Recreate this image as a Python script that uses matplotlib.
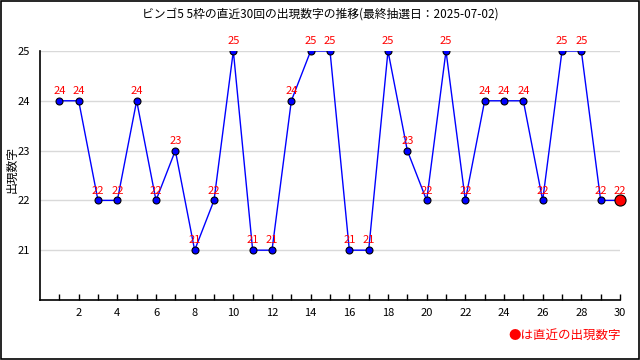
import matplotlib
matplotlib.use("Agg")
import matplotlib.pyplot as plt
from matplotlib.patches import Rectangle

plt.rcParams['font.family'] = ['Noto Sans CJK JP', 'DejaVu Sans']

draws = list(range(1, 31))
values = [24, 24, 22, 22, 24, 22, 23, 21, 22, 25, 21, 21, 24, 25, 25,
          21, 21, 25, 23, 22, 25, 22, 24, 24, 24, 22, 25, 25, 22, 22]
title = "ビンゴ5 5枠の直近30回の出現数字の推移(最終抽選日：2025-07-02)"
ylabel = "出現数字"
note = "●は直近の出現数字"

fig = plt.figure(figsize=(6.4, 3.6), dpi=100)
fig.patches.append(Rectangle((0.0008, 0.0014), 0.9975, 0.996, transform=fig.transFigure,
                             fill=False, edgecolor='black', linewidth=1.2))
ax = fig.add_axes([0.0625, 0.1667, 0.90625, 0.6917])
ax.set_xlim(0, 30)
ax.set_ylim(20, 25)
ax.set_yticks([21, 22, 23, 24, 25])
ax.yaxis.grid(True, color='#d9d9d9', linewidth=1)
ax.set_axisbelow(True)
ax.set_xticks(range(2, 31, 2))
ax.set_xticks(range(1, 31), minor=True)
ax.tick_params(axis='x', which='both', direction='in', length=4, width=1, labelsize=8, pad=6)
ax.tick_params(axis='y', length=0, labelsize=8, pad=7)
for s in ['top', 'right']:
    ax.spines[s].set_visible(False)
ax.spines['left'].set_linewidth(1.2)
ax.spines['bottom'].set_linewidth(1.2)

ax.plot(draws, values, color='blue', linewidth=1, marker='o', markersize=5,
        markerfacecolor='blue', markeredgecolor='black', markeredgewidth=0.8, zorder=3)
ax.plot(draws[-1:], values[-1:], linestyle='none', marker='o', markersize=8,
        markerfacecolor='red', markeredgecolor='black', markeredgewidth=0.8, zorder=4,
        clip_on=False)
for x, v in zip(draws, values):
    ax.annotate(str(v), (x, v), xytext=(0, 3.5), textcoords='offset points',
                ha='center', va='bottom', color='red', fontsize=8, clip_on=False)

fig.text(0.5, 0.962, title, ha='center', va='center', fontsize=8.5)
fig.text(0.008, 0.528, ylabel, rotation=90, ha='left', va='center', fontsize=8.5)
fig.text(0.97, 0.068, note, ha='right', va='center', color='red', fontsize=9)

fig.savefig('out.png', dpi=100)
